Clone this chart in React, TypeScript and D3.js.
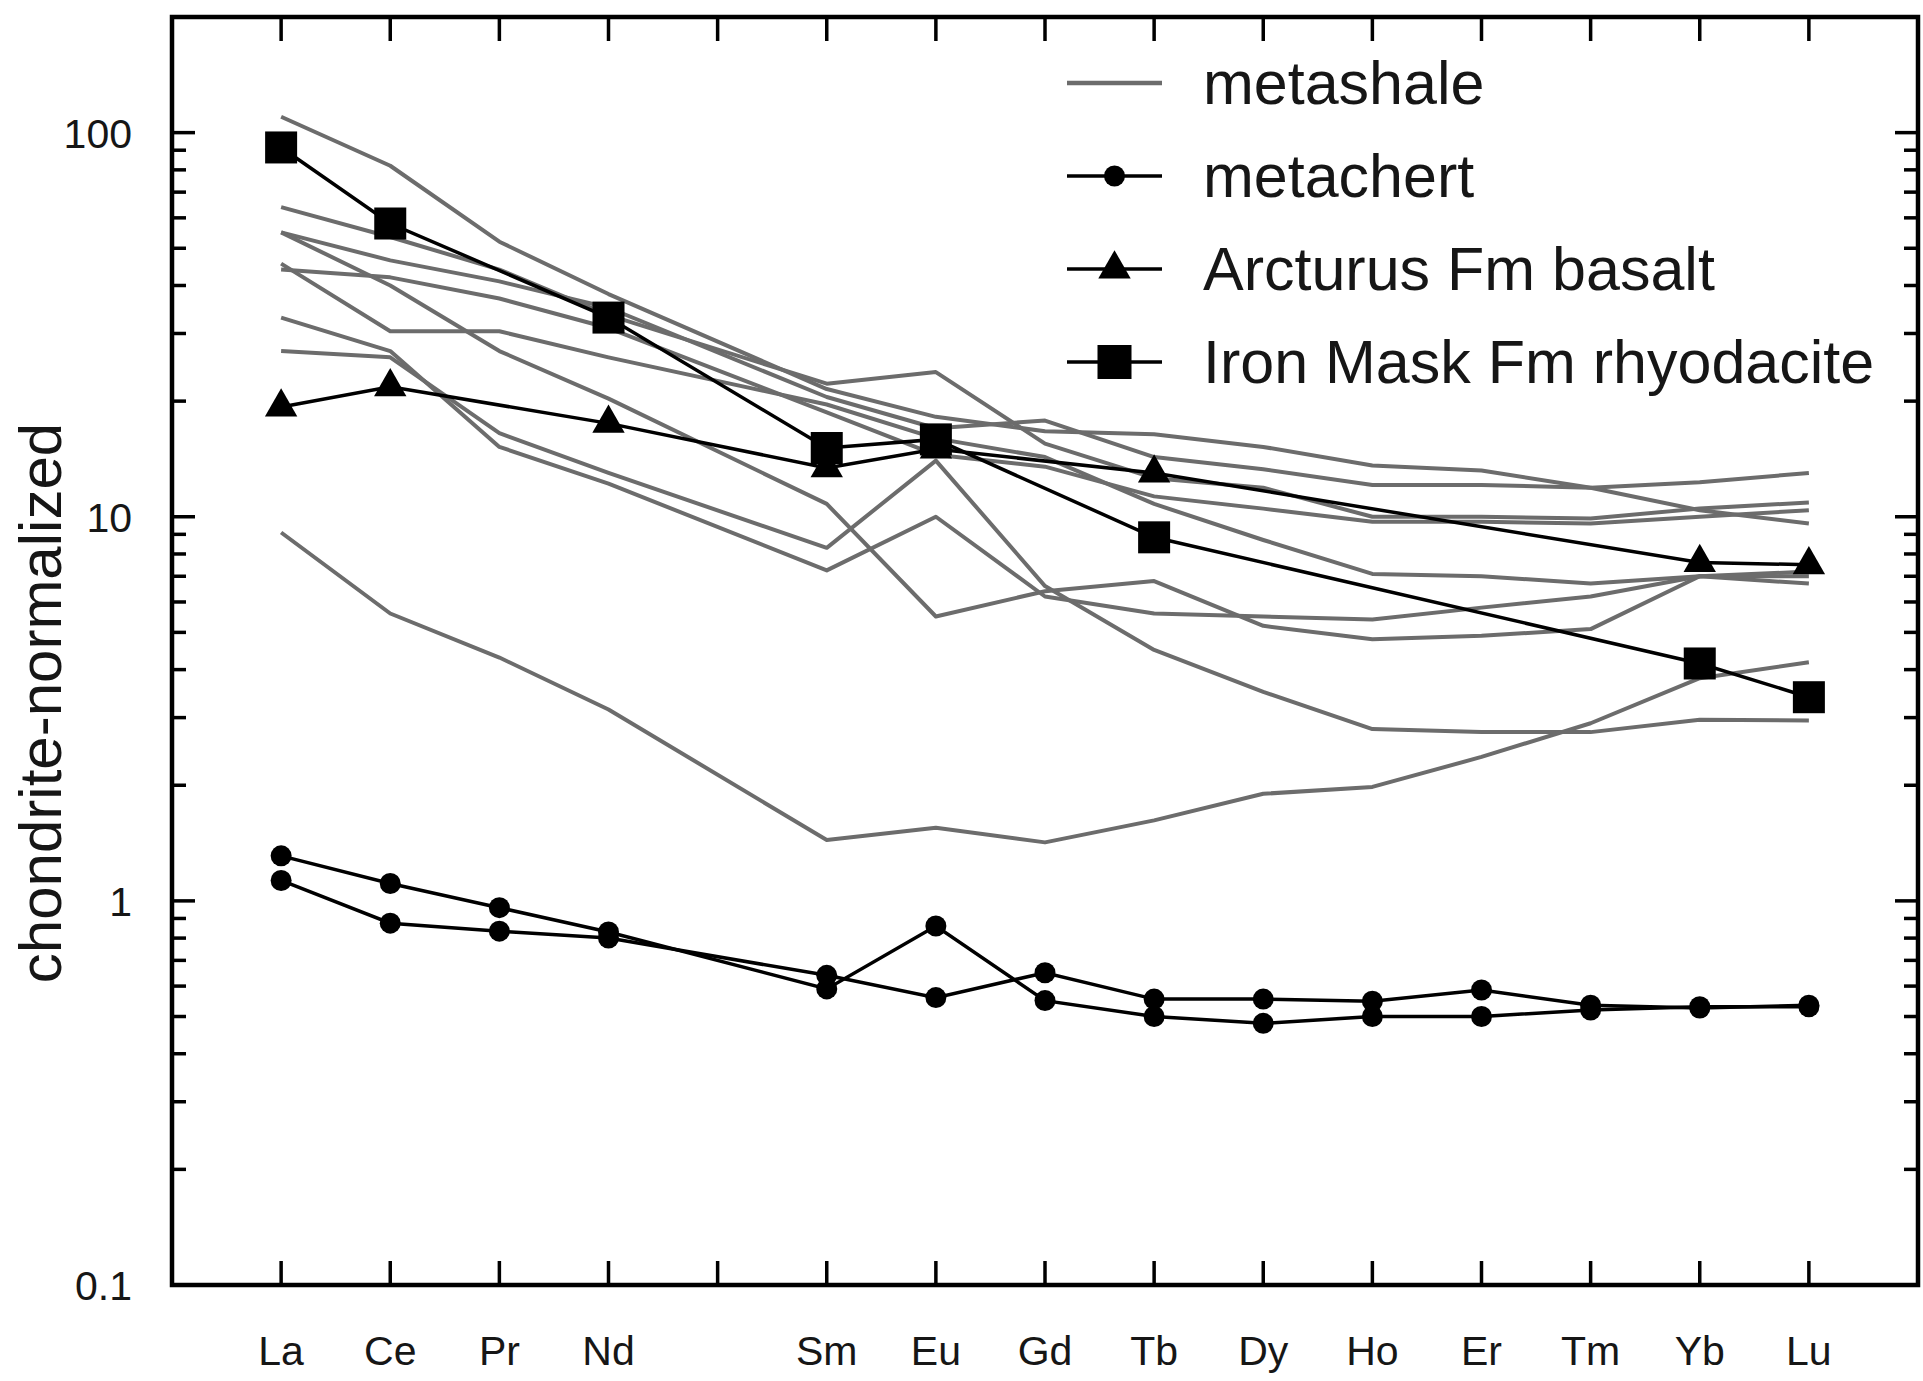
import React from "react";
import * as d3 from "d3";

// ---------- data ----------
const ELEMENTS = ["La", "Ce", "Pr", "Nd", "Pm", "Sm", "Eu", "Gd", "Tb", "Dy", "Ho", "Er", "Tm", "Yb", "Lu"];
const X_LABELS = ["La", "Ce", "Pr", "Nd", "", "Sm", "Eu", "Gd", "Tb", "Dy", "Ho", "Er", "Tm", "Yb", "Lu"];
const REE = ["La", "Ce", "Pr", "Nd", "Sm", "Eu", "Gd", "Tb", "Dy", "Ho", "Er", "Tm", "Yb", "Lu"];
const INAA = ["La", "Ce", "Nd", "Sm", "Eu", "Tb", "Yb", "Lu"];

const Y_MAJOR = [0.1, 1, 10, 100];
const Y_MAJOR_LABELS = ["0.1", "1", "10", "100"];

// metashale samples (values for REE order)
const SHALE_1 = [110, 82, 52, 38, 21.5, 18.2, 16.7, 16.4, 15.2, 13.6, 13.2, 11.9, 10.4, 9.6];
const SHALE_2 = [64, 53.5, 44, 33.5, 22.2, 23.8, 15.5, 12.6, 11.9, 10.0, 10.0, 9.9, 10.5, 10.9];
const SHALE_3 = [55, 46.5, 41, 35, 20.5, 17.0, 17.8, 14.3, 13.3, 12.1, 12.1, 11.9, 12.3, 13.0];
const SHALE_4 = [45.6, 30.4, 30.4, 26, 19.6, 16.0, 14.3, 10.8, 8.7, 7.1, 7.0, 6.7, 7.0, 6.7];
const SHALE_5 = [44, 42, 37, 31, 18.7, 14.5, 13.5, 11.3, 10.5, 9.7, 9.7, 9.6, 10.0, 10.4];
const SHALE_6 = [55, 40, 27, 20.3, 10.8, 5.5, 6.4, 6.8, 5.2, 4.8, 4.9, 5.1, 7.0, 7.2];
const SHALE_7 = [27, 26, 16.5, 13.0, 8.3, 14.0, 6.6, 4.5, 3.5, 2.8, 2.75, 2.75, 2.96, 2.95];
const SHALE_8 = [33, 27, 15.2, 12.2, 7.25, 10.0, 6.2, 5.6, 5.5, 5.4, 5.8, 6.2, 7.0, 7.0];
const SHALE_9 = [9.1, 5.6, 4.3, 3.15, 1.44, 1.55, 1.42, 1.62, 1.9, 1.98, 2.37, 2.9, 3.8, 4.18];
const METASHALE = [SHALE_1, SHALE_2, SHALE_3, SHALE_4, SHALE_5, SHALE_6, SHALE_7, SHALE_8, SHALE_9];

// metachert samples (REE order)
const CHERT_1 = [1.31, 1.11, 0.96, 0.83, 0.59, 0.86, 0.55, 0.5, 0.48, 0.5, 0.5, 0.52, 0.53, 0.53];
const CHERT_2 = [1.13, 0.875, 0.834, 0.8, 0.64, 0.56, 0.65, 0.555, 0.555, 0.548, 0.586, 0.535, 0.526, 0.535];
const METACHERT = [CHERT_1, CHERT_2];

// Arcturus Fm basalt (INAA order)
const BASALT = [19.3, 21.8, 17.5, 13.4, 15.0, 13.0, 7.6, 7.5];
// Iron Mask Fm rhyodacite (INAA order)
const RHYODACITE = [91.5, 58, 33, 15.1, 15.9, 8.84, 4.15, 3.39];

const LEGEND_LABELS = ["metashale", "metachert", "Arcturus Fm basalt", "Iron Mask Fm rhyodacite"];
const Y_TITLE = "chondrite-normalized";

// ---------- layout ----------
const W = 1923;
const H = 1381;
const LEFT = 172;
const RIGHT = 1918;
const TOP = 17;
const BOTTOM = 1285;
const FONT = "'Liberation Sans', Arial, Helvetica, sans-serif";
const GRAY = "#6c6c6c";
const TEXT = "#161616";

const x = d3.scaleLinear().domain([0, 16]).range([LEFT, RIGHT]);
const y = d3.scaleLog().domain([0.1, 200]).range([BOTTOM, TOP]);
const xOf = (el: string) => x(ELEMENTS.indexOf(el) + 1);

const lineGen = (els: string[]) =>
  d3
    .line<number>()
    .x((_, i) => xOf(els[i]))
    .y((d) => y(d));

const SQ = 32;
const CR = 10.5;
const triPath = (cx: number, cy: number) => {
  const h = 9.4;
  const hw = 16.2;
  return `M${cx},${cy - 2 * h}L${cx + hw},${cy + h}L${cx - hw},${cy + h}Z`;
};

export default function App() {
  const reeLine = lineGen(REE);
  const inaaLine = lineGen(INAA);

  const allTicks = y.ticks();
  const minorTicks = allTicks.filter(
    (t) => !Y_MAJOR.some((m) => Math.abs(m - t) / m < 1e-6) && t < 200
  );

  const legendY = (i: number) => 83 + i * 93;
  const lgX0 = 1067;
  const lgX1 = 1162;
  const lgMid = (lgX0 + lgX1) / 2;
  const lgText = 1203;

  return (
    <svg
      width={W}
      height={H}
      style={{ position: "absolute", left: 0, top: 0, background: "#fff" }}
      fontFamily={FONT}
    >
      <rect x={0} y={0} width={W} height={H} fill="#fff" />

      {/* metashale */}
      <g fill="none" stroke={GRAY} strokeWidth={4} strokeLinejoin="round">
        {METASHALE.map((s, i) => (
          <path key={i} d={reeLine(s) || ""} />
        ))}
      </g>

      {/* metachert */}
      <g>
        {METACHERT.map((s, i) => (
          <g key={i}>
            <path d={reeLine(s) || ""} fill="none" stroke="#000" strokeWidth={3.5} />
            {s.map((v, j) => (
              <circle key={j} cx={xOf(REE[j])} cy={y(v)} r={CR} fill="#000" />
            ))}
          </g>
        ))}
      </g>

      {/* basalt */}
      <g>
        <path d={inaaLine(BASALT) || ""} fill="none" stroke="#000" strokeWidth={3.5} />
        {BASALT.map((v, j) => (
          <path key={j} d={triPath(xOf(INAA[j]), y(v))} fill="#000" />
        ))}
      </g>

      {/* rhyodacite */}
      <g>
        <path d={inaaLine(RHYODACITE) || ""} fill="none" stroke="#000" strokeWidth={3.5} />
        {RHYODACITE.map((v, j) => (
          <rect
            key={j}
            x={xOf(INAA[j]) - SQ / 2}
            y={y(v) - SQ / 2}
            width={SQ}
            height={SQ}
            fill="#000"
          />
        ))}
      </g>

      {/* ticks */}
      <g stroke="#000" strokeWidth={3.5}>
        {ELEMENTS.map((el, i) => (
          <g key={el}>
            <line x1={x(i + 1)} x2={x(i + 1)} y1={BOTTOM} y2={BOTTOM - 24} />
            <line x1={x(i + 1)} x2={x(i + 1)} y1={TOP} y2={TOP + 24} />
          </g>
        ))}
        {Y_MAJOR.map((t) => (
          <g key={"M" + t}>
            <line x1={LEFT} x2={LEFT + 23} y1={y(t)} y2={y(t)} />
            <line x1={RIGHT} x2={RIGHT - 23} y1={y(t)} y2={y(t)} />
          </g>
        ))}
        {minorTicks.map((t) => (
          <g key={"m" + t}>
            <line x1={LEFT} x2={LEFT + 14} y1={y(t)} y2={y(t)} />
            <line x1={RIGHT} x2={RIGHT - 14} y1={y(t)} y2={y(t)} />
          </g>
        ))}
      </g>

      {/* frame */}
      <rect
        x={LEFT}
        y={TOP}
        width={RIGHT - LEFT}
        height={BOTTOM - TOP}
        fill="none"
        stroke="#000"
        strokeWidth={4.5}
      />

      {/* tick labels */}
      <g fill={TEXT} fontSize={41}>
        {X_LABELS.map((lab, i) =>
          lab ? (
            <text key={i} x={x(i + 1)} y={1365} textAnchor="middle">
              {lab}
            </text>
          ) : null
        )}
        {Y_MAJOR.map((t, i) => (
          <text key={t} x={132} y={y(t) + 15} textAnchor="end">
            {Y_MAJOR_LABELS[i]}
          </text>
        ))}
      </g>

      {/* y title */}
      <text
        transform={`translate(61, 703) rotate(-90)`}
        textAnchor="middle"
        fontSize={60}
        fill={TEXT}
      >
        {Y_TITLE}
      </text>

      {/* legend */}
      <g>
        <line x1={lgX0} x2={lgX1} y1={legendY(0)} y2={legendY(0)} stroke={GRAY} strokeWidth={4.5} />
        <line x1={lgX0} x2={lgX1} y1={legendY(1)} y2={legendY(1)} stroke="#000" strokeWidth={3.5} />
        <circle cx={lgMid} cy={legendY(1)} r={CR} fill="#000" />
        <line x1={lgX0} x2={lgX1} y1={legendY(2)} y2={legendY(2)} stroke="#000" strokeWidth={3.5} />
        <path d={triPath(lgMid, legendY(2))} fill="#000" />
        <line x1={lgX0} x2={lgX1} y1={legendY(3)} y2={legendY(3)} stroke="#000" strokeWidth={3.5} />
        <rect x={lgMid - 17} y={legendY(3) - 17} width={34} height={34} fill="#000" />
        {LEGEND_LABELS.map((lab, i) => (
          <text key={lab} x={lgText} y={legendY(i) + 21} fontSize={61} fill={TEXT}>
            {lab}
          </text>
        ))}
      </g>
    </svg>
  );
}
